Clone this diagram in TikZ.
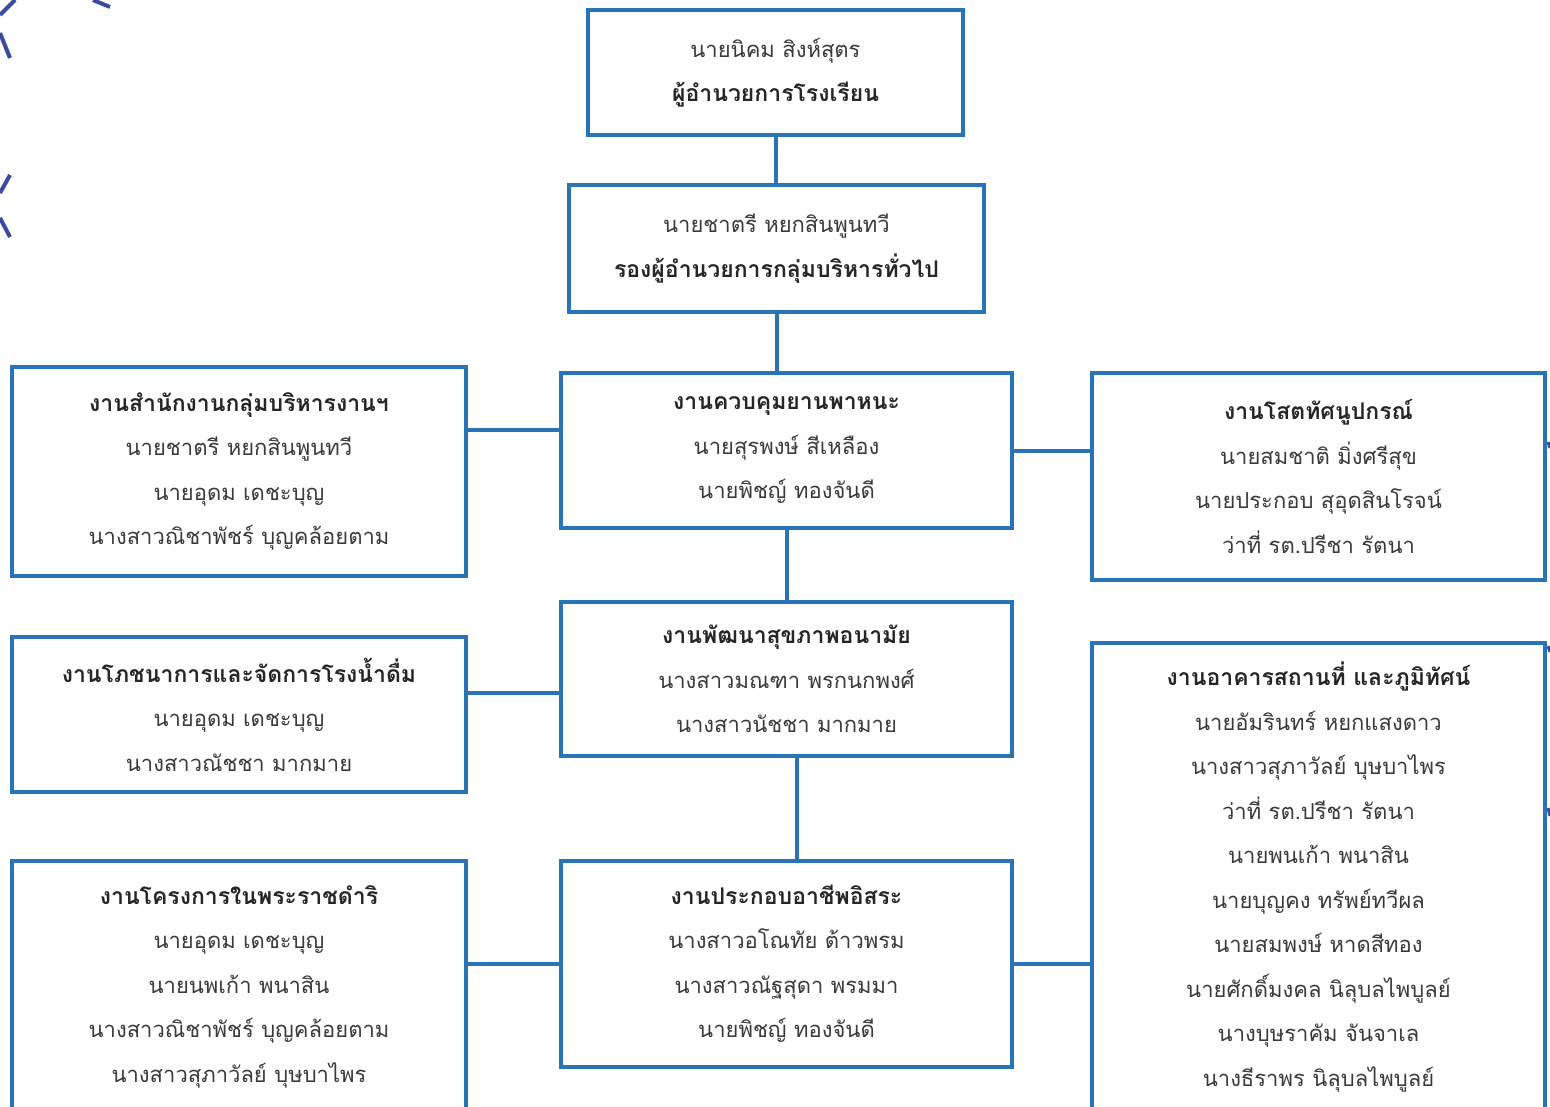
\documentclass[tikz,border=0pt]{standalone}
\usepackage{fontspec}
\setmainfont{Loma}[Script=Thai]
\definecolor{boxblue}{HTML}{2A73B6}
\definecolor{textgray}{HTML}{3A3A3A}
\definecolor{titleblack}{HTML}{262626}
\definecolor{decoblue}{HTML}{3B4BA0}
\newcommand{\orgtitle}[1]{{\fontsize{23}{44.5}\selectfont\bfseries\color{titleblack}#1}}
\tikzset{
  orgbox/.style={draw=boxblue, line width=4pt, inner sep=0pt, align=center,
    text=textgray, font=\fontsize{22}{44.5}\selectfont},
  conn/.style={draw=boxblue, line width=4pt},
  deco/.style={draw=decoblue, line width=4pt}
}
\begin{document}
\begin{tikzpicture}[x=1pt,y=-1pt]
\useasboundingbox (0,0) rectangle (1550,1107);
\clip (0,0) rectangle (1550,1107);
\fill[white] (0,0) rectangle (1550,1107);

% decorative fragments at the left edge
\draw[deco] (0,15) -- (15,0);
\draw[deco] (0,33) -- (10,58);
\draw[deco] (0,193) -- (10,175);
\draw[deco] (0,218) -- (10,237);
\draw[deco] (93,0) -- (110,7);
% small marks at the right edge
\draw[deco, line width=3pt] (1548,442) -- (1550,448);
\draw[deco, line width=3pt] (1548,646) -- (1550,652);
\draw[deco, line width=3pt] (1548,808) -- (1550,816);

% boxes
\node[orgbox, minimum width=375, minimum height=125] (top) at (775.5,72.5)
  {นายนิคม สิงห์สุตร\\\orgtitle{ผู้อำนวยการโรงเรียน}};
\node[orgbox, minimum width=415, minimum height=127] (b2) at (776.5,248.5)
  {นายชาตรี หยกสินพูนทวี\\\orgtitle{รองผู้อำนวยการกลุ่มบริหารทั่วไป}};

\node[orgbox, minimum width=454, minimum height=209] (l1) at (239,471.5)
  {\orgtitle{งานสำนักงานกลุ่มบริหารงานฯ}\\นายชาตรี หยกสินพูนทวี\\นายอุดม เดชะบุญ\\นางสาวณิชาพัชร์ บุญคล้อยตาม};
\node[orgbox, minimum width=451, minimum height=155] (c1) at (786.5,450.5)
  {\orgtitle{งานควบคุมยานพาหนะ}\\นายสุรพงษ์ สีเหลือง\\นายพิชญ์ ทองจันดี};
\node[orgbox, minimum width=453, minimum height=207] (r1) at (1318.5,476.5)
  {\orgtitle{งานโสตทัศนูปกรณ์}\\นายสมชาติ มิ่งศรีสุข\\นายประกอบ สุอุดสินโรจน์\\ว่าที่ รต.ปรีชา รัตนา};

\node[orgbox, minimum width=454, minimum height=155] (l2) at (239,714.5)
  {\orgtitle{งานโภชนาการและจัดการโรงน้ำดื่ม}\\นายอุดม เดชะบุญ\\นางสาวณัชชา มากมาย};
\node[orgbox, minimum width=451, minimum height=154] (c2) at (786.5,679)
  {\orgtitle{งานพัฒนาสุขภาพอนามัย}\\นางสาวมณฑา พรกนกพงศ์\\นางสาวนัชชา มากมาย};
\node[orgbox, minimum width=453, minimum height=468] (r2) at (1318.5,877)
  {\orgtitle{งานอาคารสถานที่ และภูมิทัศน์}\\นายอัมรินทร์ หยกแสงดาว\\นางสาวสุภาวัลย์ บุษบาไพร\\ว่าที่ รต.ปรีชา รัตนา\\นายพนเก้า พนาสิน\\นายบุญคง ทรัพย์ทวีผล\\นายสมพงษ์ หาดสีทอง\\นายศักดิ์มงคล นิลุบลไพบูลย์\\นางบุษราคัม จันจาเล\\นางธีราพร นิลุบลไพบูลย์};

\node[orgbox, minimum width=454, minimum height=251] (l3) at (239,986.5)
  {\orgtitle{งานโครงการในพระราชดำริ}\\นายอุดม เดชะบุญ\\นายนพเก้า พนาสิน\\นางสาวณิชาพัชร์ บุญคล้อยตาม\\นางสาวสุภาวัลย์ บุษบาไพร};
\node[orgbox, minimum width=451, minimum height=206] (c3) at (786.5,964)
  {\orgtitle{งานประกอบอาชีพอิสระ}\\นางสาวอโณทัย ต้าวพรม\\นางสาวณัฐสุดา พรมมา\\นายพิชญ์ ทองจันดี};

% connectors
\draw[conn] (top.south) -- (top.south |- b2.north);
\draw[conn] (b2.south) -- (b2.south |- c1.north);
\draw[conn] (c1.south) -- (c1.south |- c2.north);
\draw[conn] ([xshift=10.5pt]c2.south) -- ([xshift=10.5pt]c2.south |- c3.north);
\draw[conn] ([yshift=20.5pt]c1.west) -- ([yshift=20.5pt]c1.west -| l1.east);
\draw[conn] (c1.east) -- (c1.east -| r1.west);
\draw[conn] ([yshift=-14pt]c2.west) -- ([yshift=-14pt]c2.west -| l2.east);
\draw[conn] (c3.west) -- (c3.west -| l3.east);
\draw[conn] (c3.east) -- (c3.east -| r2.west);
\end{tikzpicture}
\end{document}
